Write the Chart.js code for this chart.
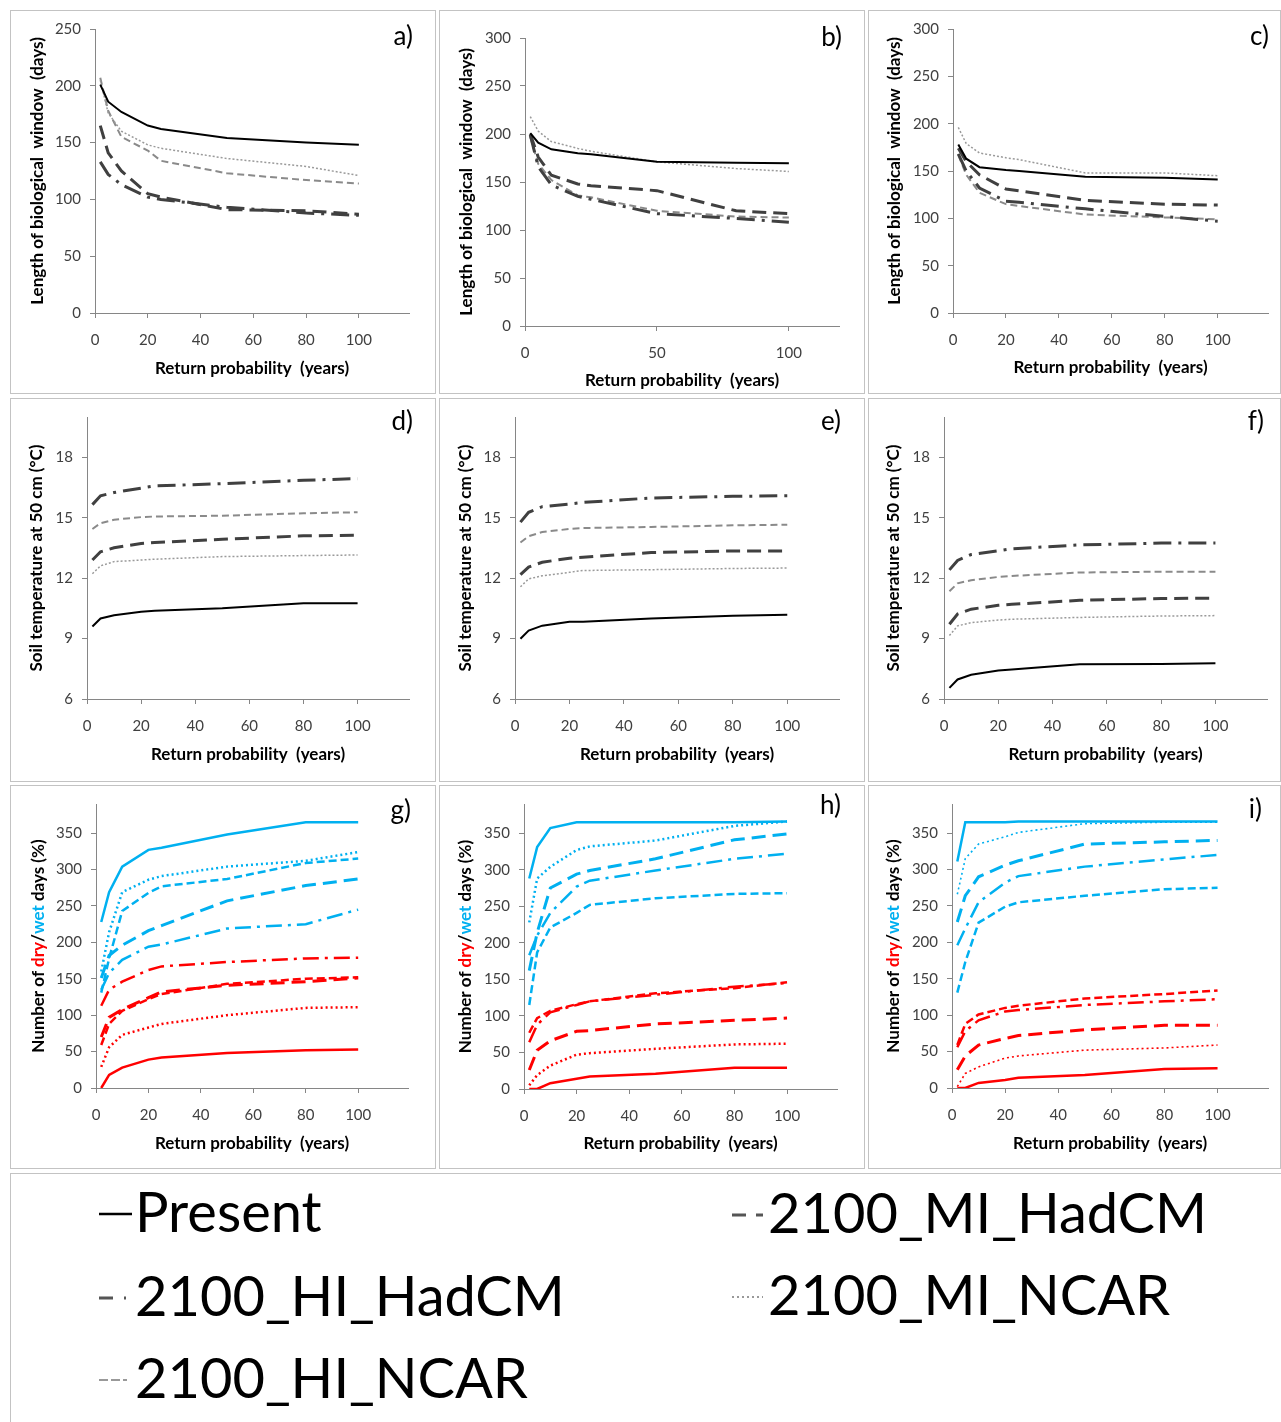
<!DOCTYPE html>
<html><head><meta charset="utf-8">
<script src="https://cdn.jsdelivr.net/npm/chart.js@4.4.1/dist/chart.umd.min.js"></script>
<style>
html,body{margin:0;padding:0;background:#fff;}
body{width:1281px;height:1422px;position:relative;overflow:hidden;font-family:Lato,sans-serif;}
.panel{position:absolute;border:1px solid #c3c3c3;box-sizing:border-box;background:#fff;}
.panel canvas{position:absolute;left:0;top:0;}
#legend{position:absolute;left:10px;top:1173px;width:1271px;height:260px;border:1px solid #c3c3c3;border-right:none;box-sizing:border-box;}
.lt{position:absolute;font-family:Lato,sans-serif;font-size:56px;line-height:56px;color:#000;white-space:nowrap;}
.ls{position:absolute;}
</style></head>
<body>
<div class="panel" id="pa" style="left:10px;top:10px;width:426px;height:384px"><canvas id="ca" width="424" height="382"></canvas></div>
<div class="panel" id="pb" style="left:439px;top:10px;width:426px;height:384px"><canvas id="cb" width="424" height="382"></canvas></div>
<div class="panel" id="pc" style="left:868px;top:10px;width:413px;height:384px"><canvas id="cc" width="411" height="382"></canvas></div>
<div class="panel" id="pd" style="left:10px;top:398px;width:426px;height:384px"><canvas id="cd" width="424" height="382"></canvas></div>
<div class="panel" id="pe" style="left:439px;top:398px;width:426px;height:384px"><canvas id="ce" width="424" height="382"></canvas></div>
<div class="panel" id="pf" style="left:868px;top:398px;width:413px;height:384px"><canvas id="cf" width="411" height="382"></canvas></div>
<div class="panel" id="pg" style="left:10px;top:785px;width:426px;height:384px"><canvas id="cg" width="424" height="382"></canvas></div>
<div class="panel" id="ph" style="left:439px;top:785px;width:426px;height:384px"><canvas id="ch" width="424" height="382"></canvas></div>
<div class="panel" id="pi" style="left:868px;top:785px;width:413px;height:384px"><canvas id="ci" width="411" height="382"></canvas></div>

<div id="legend"></div>

<script>
// ---------------- DATA ----------------
const returnPeriods = [2, 5, 10, 20, 25, 50, 80, 100];
const scenarioNames = ['Present', '2100_MI_HadCM', '2100_HI_HadCM', '2100_MI_NCAR', '2100_HI_NCAR'];

// a) biological window length (days)
const a_Present  = [201, 186, 177, 165, 162, 154, 150, 148];
const a_MI_HadCM = [165, 141, 125, 105, 102, 91, 90, 87];
const a_HI_HadCM = [133, 122, 113, 102, 100, 93, 88, 86];
const a_MI_NCAR  = [205, 176, 160, 148, 145, 136, 129, 121];
const a_HI_NCAR  = [207, 178, 155, 143, 134, 123, 117, 114];
// b)
const b_Present  = [201, 191, 184, 180, 179, 171, 170, 169.5];
const b_MI_HadCM = [200, 176, 157, 148, 146, 141, 120, 117];
const b_HI_HadCM = [199, 166, 147, 135, 132, 117, 112, 108];
const b_MI_NCAR  = [218, 203, 192, 185, 182, 171, 164, 161];
const b_HI_NCAR  = [197, 169, 152, 136, 134, 120, 114, 113];
// c)
const c_Present  = [178, 163, 154, 151, 150, 144, 143, 141];
const c_MI_HadCM = [174, 160, 146, 131, 129, 119, 115, 114];
const c_HI_HadCM = [168, 150, 132, 118, 117, 110, 102, 97];
const c_MI_NCAR  = [196, 179, 169, 164, 162, 148, 148, 145];
const c_HI_NCAR  = [167, 146, 127, 115, 113, 104, 101, 99];
// d) soil temperature at 50 cm
const d_Present  = [9.6, 10.0, 10.16, 10.33, 10.38, 10.5, 10.75, 10.75];
const d_MI_HadCM = [12.9, 13.31, 13.51, 13.72, 13.77, 13.93, 14.1, 14.13];
const d_HI_HadCM = [15.65, 16.09, 16.25, 16.47, 16.58, 16.69, 16.86, 16.94];
const d_MI_NCAR  = [12.22, 12.61, 12.82, 12.9, 12.94, 13.07, 13.12, 13.15];
const d_HI_NCAR  = [14.44, 14.73, 14.9, 15.03, 15.06, 15.1, 15.22, 15.27];
// e)
const e_Present  = [8.99, 9.4, 9.64, 9.84, 9.84, 10.0, 10.13, 10.18];
const e_MI_HadCM = [12.17, 12.55, 12.79, 12.99, 13.04, 13.27, 13.35, 13.35];
const e_HI_HadCM = [14.78, 15.27, 15.55, 15.68, 15.76, 15.98, 16.06, 16.09];
const e_MI_NCAR  = [11.57, 11.96, 12.12, 12.29, 12.38, 12.42, 12.48, 12.5];
const e_HI_NCAR  = [13.77, 14.08, 14.29, 14.44, 14.49, 14.54, 14.62, 14.65];
// f)
const f_Present  = [6.55, 6.97, 7.2, 7.41, 7.46, 7.72, 7.74, 7.78];
const f_MI_HadCM = [9.71, 10.22, 10.46, 10.65, 10.7, 10.9, 10.99, 11.01];
const f_HI_HadCM = [12.41, 12.88, 13.17, 13.36, 13.46, 13.65, 13.74, 13.74];
const f_MI_NCAR  = [9.15, 9.63, 9.79, 9.92, 9.96, 10.05, 10.12, 10.14];
const f_HI_NCAR  = [11.35, 11.74, 11.9, 12.06, 12.11, 12.28, 12.32, 12.32];
// g) wet (blue) / dry (red) days
const g_wet_Present  = [228, 269, 304, 327, 330, 348, 365, 365];
const g_wet_MI_HadCM = [151, 182, 196, 216, 223, 257, 278, 287];
const g_wet_HI_HadCM = [135, 158, 176, 194, 197, 219, 225, 245];
const g_wet_MI_NCAR  = [160, 214, 269, 286, 291, 304, 312, 324];
const g_wet_HI_NCAR  = [131, 178, 243, 268, 277, 287, 309, 315];
const g_dry_Present  = [0, 18, 28, 39, 42, 48, 52, 53];
const g_dry_MI_HadCM = [70, 97, 108, 124, 132, 141, 146, 151];
const g_dry_HI_HadCM = [113, 135, 146, 162, 167, 173, 178, 179];
const g_dry_MI_NCAR  = [29, 56, 73, 83, 88, 100, 110, 111];
const g_dry_HI_NCAR  = [59, 88, 106, 122, 129, 143, 150, 152];
// h)
const h_wet_Present  = [288, 331, 357, 365, 365, 365, 365, 366];
const h_wet_MI_HadCM = [162, 214, 275, 294, 299, 315, 341, 349];
const h_wet_HI_HadCM = [183, 210, 241, 277, 285, 299, 315, 322];
const h_wet_MI_NCAR  = [228, 288, 304, 327, 332, 340, 360, 366];
const h_wet_HI_NCAR  = [115, 187, 221, 241, 252, 261, 267, 268];
const h_dry_Present  = [0, 0, 8, 14, 17, 21, 29, 29];
const h_dry_MI_HadCM = [26, 53, 66, 79, 80, 89, 94, 97];
const h_dry_HI_HadCM = [64, 88, 105, 115, 120, 129, 140, 145];
const h_dry_MI_NCAR  = [5, 19, 32, 47, 49, 55, 61, 62];
const h_dry_HI_NCAR  = [77, 97, 107, 116, 120, 131, 138, 146];
// i)
const i_wet_Present  = [311, 365, 365, 365, 366, 366, 366, 366];
const i_wet_MI_HadCM = [228, 264, 290, 306, 312, 335, 338, 340];
const i_wet_HI_HadCM = [196, 219, 255, 282, 291, 304, 314, 320];
const i_wet_MI_NCAR  = [266, 315, 335, 345, 351, 363, 365, 365];
const i_wet_HI_NCAR  = [131, 173, 227, 249, 255, 264, 273, 275];
const i_dry_Present  = [0, 0, 7, 11, 14, 18, 26, 27];
const i_dry_MI_HadCM = [25, 44, 59, 68, 72, 80, 86, 86];
const i_dry_HI_HadCM = [56, 78, 93, 105, 107, 114, 119, 122];
const i_dry_MI_NCAR  = [2, 20, 29, 41, 44, 52, 55, 59];
const i_dry_HI_NCAR  = [59, 88, 101, 110, 113, 123, 129, 134];

// axis labels
const xTitle = 'Return probability  (years)';
const yTitleWindow = 'Length of biological  window  (days)';
const yTitleTemp = 'Soil temperature at 50 cm (°C)';
const yTitleDays = 'Number of dry/wet days (%)';

// ---------------- STYLES ----------------
const greyStyles = {
  'Present':       {color: '#000000', width: 2,   dash: []},
  '2100_MI_HadCM': {color: '#404040', width: 3,   dash: [14, 7]},
  '2100_HI_HadCM': {color: '#404040', width: 3,   dash: [18, 7, 3, 7]},
  '2100_MI_NCAR':  {color: '#9a9a9a', width: 1.5, dash: [2, 2]},
  '2100_HI_NCAR':  {color: '#8a8a8a', width: 2,   dash: [7, 4]}
};
const colourStyles = {
  'Present':       {width: 2.5, dash: []},
  '2100_MI_HadCM': {width: 3,   dash: [14, 7]},
  '2100_HI_HadCM': {width: 2.5, dash: [16, 6, 3, 6]},
  '2100_MI_NCAR':  {width: 2.5, dash: [2, 3]},
  '2100_HI_NCAR':  {width: 2.5, dash: [8, 4]}
};
const RED = '#FF0000', BLUE = '#00B0F0';
const AXIS = '#868686', TICKC = '#404040';
const TITLE_SIZE = 17;

Chart.defaults.font.family = 'Lato, sans-serif';

function pts(arr) { return returnPeriods.map((x, i) => ({x: x, y: arr[i]})); }

function greyDatasets(series) {
  return scenarioNames.map((n, k) => ({
    label: n, data: pts(series[k]),
    borderColor: greyStyles[n].color, borderWidth: greyStyles[n].width, borderDash: greyStyles[n].dash,
    pointRadius: 0, tension: 0, fill: false, borderCapStyle: 'butt'
  }));
}
function colourDatasets(wet, dry, thinDot) {
  const out = [];
  [[wet, BLUE, 'wet'], [dry, RED, 'dry']].forEach(([series, col, tag]) => {
    scenarioNames.forEach((n, k) => {
      let w = colourStyles[n].width;
      if (thinDot && n === '2100_MI_NCAR') w = 1.6;
      out.push({
        label: n + ' (' + tag + ')', data: pts(series[k]),
        borderColor: col, borderWidth: w, borderDash: colourStyles[n].dash,
        pointRadius: 0, tension: 0, fill: false, borderCapStyle: 'butt'
      });
    });
  });
  return out;
}

const decor = {
  id: 'decor',
  afterDraw(chart, args, opts) {
    const ctx = chart.ctx;
    ctx.save();
    ctx.font = '26px Lato, sans-serif';
    ctx.fillStyle = '#000';
    ctx.textAlign = 'right';
    ctx.textBaseline = 'alphabetic';
    ctx.fillText(opts.letter, opts.lx, opts.ly);
    ctx.restore();
    if (opts.colored) {
      const ys = chart.scales.y;
      const lh = TITLE_SIZE * 1.2;
      const x = ys.left + lh / 2;
      const y = (chart.chartArea.top + chart.chartArea.bottom) / 2;
      const segs = [['Number of ', '#000'], ['dry', RED], ['/', '#000'], ['wet', BLUE], [' days (%)', '#000']];
      ctx.save();
      ctx.font = 'bold ' + TITLE_SIZE + 'px Lato, sans-serif';
      ctx.translate(x, y);
      ctx.rotate(-Math.PI / 2);
      ctx.textBaseline = 'middle';
      ctx.textAlign = 'left';
      let total = 0;
      segs.forEach(s => total += ctx.measureText(s[0]).width);
      let cx = -total / 2;
      segs.forEach(s => { ctx.fillStyle = s[1]; ctx.fillText(s[0], cx, 0); cx += ctx.measureText(s[0]).width; });
      ctx.restore();
    }
  }
};

function makeChart(id, g, datasets) {
  const lh = TITLE_SIZE * 1.2;
  const padL = g.yc - lh / 2;
  const padB = g.h - g.xc - lh / 2;
  const tickFont = {family: 'Lato, sans-serif', size: 15};
  const titleFont = {family: 'Lato, sans-serif', size: TITLE_SIZE, weight: 'bold'};
  new Chart(document.getElementById(id), {
    type: 'line',
    data: {datasets: datasets},
    plugins: [decor],
    options: {
      responsive: false, animation: false, devicePixelRatio: 1,
      layout: {padding: {left: padL, top: g.T, right: g.w - g.R, bottom: padB}},
      plugins: {
        legend: {display: false}, tooltip: {enabled: false},
        decor: {letter: g.letter, lx: g.lx, ly: g.ly, colored: !!g.colored}
      },
      scales: {
        x: {
          type: 'linear', min: 0, max: 119,
          afterFit: s => { s.height = (g.h - padB) - g.B; },
          ticks: {stepSize: g.xStep, includeBounds: false, font: tickFont, color: TICKC, padding: 13, maxRotation: 0, autoSkip: false},
          grid: {display: true, drawOnChartArea: false, drawTicks: true, tickLength: 5, color: AXIS},
          border: {display: true, color: AXIS, width: 1},
          title: {display: true, text: xTitle, font: titleFont, color: '#000', padding: 0}
        },
        y: {
          type: 'linear', min: g.yMin, max: g.yMax,
          afterFit: s => { s.width = g.L - padL; },
          ticks: {stepSize: g.yStep, includeBounds: false, font: tickFont, color: TICKC, padding: 9},
          grid: {display: true, drawOnChartArea: false, drawTicks: true, tickLength: 5, color: AXIS},
          border: {display: true, color: AXIS, width: 1},
          title: {display: true, text: g.yTitle, font: titleFont, color: g.colored ? 'rgba(0,0,0,0)' : '#000', padding: 0}
        }
      }
    }
  });
}

const W = 424, WC = 411, H = 382;
makeChart('ca', {w: W, h: H, L: 84, T: 15, R: 398, B: 302, yc: 27, xc: 358, yMin: 0, yMax: 250, yStep: 50, xStep: 20, yTitle: yTitleWindow, letter: 'a)', lx: 402, ly: 34},
  greyDatasets([a_Present, a_MI_HadCM, a_HI_HadCM, a_MI_NCAR, a_HI_NCAR]));
makeChart('cb', {w: W, h: H, L: 85, T: 27, R: 399, B: 315, yc: 27, xc: 370, yMin: 0, yMax: 300, yStep: 50, xStep: 50, yTitle: yTitleWindow, letter: 'b)', lx: 402, ly: 35},
  greyDatasets([b_Present, b_MI_HadCM, b_HI_HadCM, b_MI_NCAR, b_HI_NCAR]));
makeChart('cc', {w: WC, h: H, L: 84, T: 15, R: 399, B: 302, yc: 26, xc: 357, yMin: 0, yMax: 300, yStep: 50, xStep: 20, yTitle: yTitleWindow, letter: 'c)', lx: 400, ly: 34},
  greyDatasets([c_Present, c_MI_HadCM, c_HI_HadCM, c_MI_NCAR, c_HI_NCAR]));
makeChart('cd', {w: W, h: H, L: 76, T: 14, R: 398, B: 300, yc: 25.5, xc: 356, yMin: 6, yMax: 20, yStep: 3, xStep: 20, yTitle: yTitleTemp, letter: 'd)', lx: 402, ly: 31},
  greyDatasets([d_Present, d_MI_HadCM, d_HI_HadCM, d_MI_NCAR, d_HI_NCAR]));
makeChart('ce', {w: W, h: H, L: 75, T: 13, R: 399, B: 300, yc: 26, xc: 356, yMin: 6, yMax: 20, yStep: 3, xStep: 20, yTitle: yTitleTemp, letter: 'e)', lx: 401, ly: 31},
  greyDatasets([e_Present, e_MI_HadCM, e_HI_HadCM, e_MI_NCAR, e_HI_NCAR]));
makeChart('cf', {w: WC, h: H, L: 75, T: 13, R: 398, B: 300, yc: 25, xc: 356, yMin: 6, yMax: 20, yStep: 3, xStep: 20, yTitle: yTitleTemp, letter: 'f)', lx: 395, ly: 31},
  greyDatasets([f_Present, f_MI_HadCM, f_HI_HadCM, f_MI_NCAR, f_HI_NCAR]));
makeChart('cg', {w: W, h: H, L: 85, T: 13, R: 397, B: 302, yc: 27.5, xc: 358, yMin: 0, yMax: 390, yStep: 50, xStep: 20, yTitle: yTitleDays, colored: true, letter: 'g)', lx: 400, ly: 33},
  colourDatasets([g_wet_Present, g_wet_MI_HadCM, g_wet_HI_HadCM, g_wet_MI_NCAR, g_wet_HI_NCAR],
                 [g_dry_Present, g_dry_MI_HadCM, g_dry_HI_HadCM, g_dry_MI_NCAR, g_dry_HI_NCAR], false));
makeChart('ch', {w: W, h: H, L: 84, T: 13, R: 397, B: 303, yc: 26, xc: 358, yMin: 0, yMax: 390, yStep: 50, xStep: 20, yTitle: yTitleDays, colored: true, letter: 'h)', lx: 401, ly: 28},
  colourDatasets([h_wet_Present, h_wet_MI_HadCM, h_wet_HI_HadCM, h_wet_MI_NCAR, h_wet_HI_NCAR],
                 [h_dry_Present, h_dry_MI_HadCM, h_dry_HI_HadCM, h_dry_MI_NCAR, h_dry_HI_NCAR], false));
makeChart('ci', {w: WC, h: H, L: 83, T: 13, R: 399, B: 302, yc: 25, xc: 358, yMin: 0, yMax: 390, yStep: 50, xStep: 20, yTitle: yTitleDays, colored: true, letter: 'i)', lx: 393, ly: 32},
  colourDatasets([i_wet_Present, i_wet_MI_HadCM, i_wet_HI_HadCM, i_wet_MI_NCAR, i_wet_HI_NCAR],
                 [i_dry_Present, i_dry_MI_HadCM, i_dry_HI_HadCM, i_dry_MI_NCAR, i_dry_HI_NCAR], true));

// ---------------- LEGEND (HTML) ----------------
const legendItems = [
  {name: 'Present',       x: 99,  tx: 135, y: 1214, color: '#000', width: 2.5, dash: '',      len: 33},
  {name: '2100_MI_HadCM', x: 732, tx: 768, y: 1215, color: '#555', width: 3,   dash: '14 10', len: 31},
  {name: '2100_HI_HadCM', x: 99,  tx: 135, y: 1298, color: '#555', width: 3,   dash: '14 11 2 20', len: 28},
  {name: '2100_MI_NCAR',  x: 732, tx: 768, y: 1297, color: '#999', width: 2,   dash: '2 3',   len: 31},
  {name: '2100_HI_NCAR',  x: 99,  tx: 135, y: 1380, color: '#999', width: 2,   dash: '9 3',   len: 28}
];
const body = document.body;
legendItems.forEach(it => {
  const svg = document.createElementNS('http://www.w3.org/2000/svg', 'svg');
  svg.setAttribute('class', 'ls');
  svg.setAttribute('width', it.len + 2);
  svg.setAttribute('height', 8);
  svg.style.left = it.x + 'px';
  svg.style.top = (it.y - 4) + 'px';
  const ln = document.createElementNS('http://www.w3.org/2000/svg', 'line');
  ln.setAttribute('x1', 0); ln.setAttribute('x2', it.len);
  ln.setAttribute('y1', 4); ln.setAttribute('y2', 4);
  ln.setAttribute('stroke', it.color); ln.setAttribute('stroke-width', it.width);
  if (it.dash) ln.setAttribute('stroke-dasharray', it.dash);
  svg.appendChild(ln);
  body.appendChild(svg);
  const t = document.createElement('div');
  t.className = 'lt';
  t.textContent = it.name;
  t.style.left = it.tx + 'px';
  t.style.top = (it.y - 31) + 'px';
  body.appendChild(t);
});
</script>
</body></html>
